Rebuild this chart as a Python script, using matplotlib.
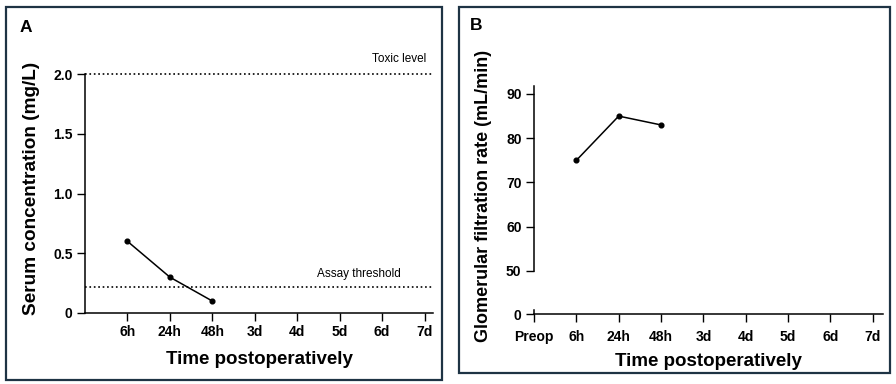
import matplotlib
matplotlib.use('Agg')
import matplotlib.pyplot as plt
from matplotlib.patches import Rectangle

plt.rcParams['font.family'] = ['Liberation Sans', 'DejaVu Sans']

# data
time_labels = ['Preop', '6h', '24h', '48h', '3d', '4d', '5d', '6d', '7d']
serum_x = [1, 2, 3]
serum_vals = [0.6, 0.3, 0.1]
toxic_level = 2.0
assay_threshold = 0.22
gfr_x = [1, 2, 3]
gfr_vals = [75, 85, 83]

W, H = 896, 384
fig = plt.figure(figsize=(W / 100, H / 100), dpi=100)

def px(x0, y0, x1, y1):
    # pixel box (top-left origin) -> figure fraction rect
    return [x0 / W, 1 - y1 / H, (x1 - x0) / W, (y1 - y0) / H]

border = '#1e3344'
fig.patches.append(Rectangle((6 / W, 1 - 380 / H), 436 / W, 373 / H, transform=fig.transFigure,
                             fill=False, edgecolor=border, linewidth=1.6))
fig.patches.append(Rectangle((459 / W, 1 - 373 / H), 431 / W, 366 / H, transform=fig.transFigure,
                             fill=False, edgecolor=border, linewidth=1.6))

tick_kw = dict(labelsize=10, width=1.0, length=5.5, direction='out')

def style(ax):
    for s in ['top', 'right']:
        ax.spines[s].set_visible(False)
    for s in ['left', 'bottom']:
        ax.spines[s].set_linewidth(1.1)
    ax.tick_params(**tick_kw)
    for lab in ax.get_xticklabels() + ax.get_yticklabels():
        lab.set_fontweight('bold')

# ---------- Panel A ----------
axA = fig.add_axes(px(85, 74, 433, 313))
axA.plot(serum_x, serum_vals, color='black', linewidth=1.1, marker='o', markersize=3.4)
axA.axhline(toxic_level, color='black', linestyle=':', linewidth=1.2, clip_on=False)
axA.axhline(assay_threshold, color='black', linestyle=':', linewidth=1.2)
axA.set_xlim(0, 8.2)
axA.set_ylim(0, 2.0)
axA.set_xticks(range(1, 9))
axA.set_xticklabels(time_labels[1:])
axA.set_yticks([0, 0.5, 1.0, 1.5, 2.0])
axA.set_yticklabels(['0', '0.5', '1.0', '1.5', '2.0'])
style(axA)
axA.annotate('Toxic level', xy=(8.04, toxic_level), xytext=(0, 11), textcoords='offset points',
             ha='right', va='center', fontsize=8.5, annotation_clip=False)
axA.annotate('Assay threshold', xy=(7.45, assay_threshold), xytext=(0, 9.5), textcoords='offset points',
             ha='right', va='center', fontsize=8.5)
fig.text(32 / W, 1 - 188 / H, 'Serum concentration (mg/L)', rotation=90, ha='center', va='center',
         fontsize=13.7, fontweight='bold')
fig.text(259 / W, 1 - 360 / H, 'Time postoperatively', ha='center', va='center',
         fontsize=13.5, fontweight='bold')
fig.text(26 / W, 1 - 27 / H, 'A', ha='center', va='center', fontsize=12.5, fontweight='bold')

# ---------- Panel B (broken y axis) ----------
axB = fig.add_axes(px(534, 86, 883, 271))
axB.plot(gfr_x, gfr_vals, color='black', linewidth=1.1, marker='o', markersize=3.4)
axB.set_xlim(0, 8.24)
axB.set_ylim(50, 91.8)
axB.set_yticks([50, 60, 70, 80, 90])
axB.spines['bottom'].set_visible(False)
axB.set_xticks([])
style(axB)

axB0 = fig.add_axes(px(534, 306, 883, 322))
axB0.set_xlim(0, 8.24)
axB0.set_ylim(-1, 1)
axB0.spines['bottom'].set_position(('data', 0))
axB0.spines['left'].set_bounds(0, 0.45)
axB0.set_yticks([0])
axB0.set_xticks(range(9))
axB0.set_xticklabels(time_labels)
axB0.patch.set_visible(False)
style(axB0)
axB0.tick_params(axis='x', pad=6)

fig.text(483 / W, 1 - 196 / H, 'Glomerular filtration rate (mL/min)', rotation=90, ha='center',
         va='center', fontsize=13, fontweight='bold')
fig.text(708 / W, 1 - 362 / H, 'Time postoperatively', ha='center', va='center',
         fontsize=13.5, fontweight='bold')
fig.text(476 / W, 1 - 26 / H, 'B', ha='center', va='center', fontsize=12.5, fontweight='bold')

fig.savefig('out.png', dpi=100)
